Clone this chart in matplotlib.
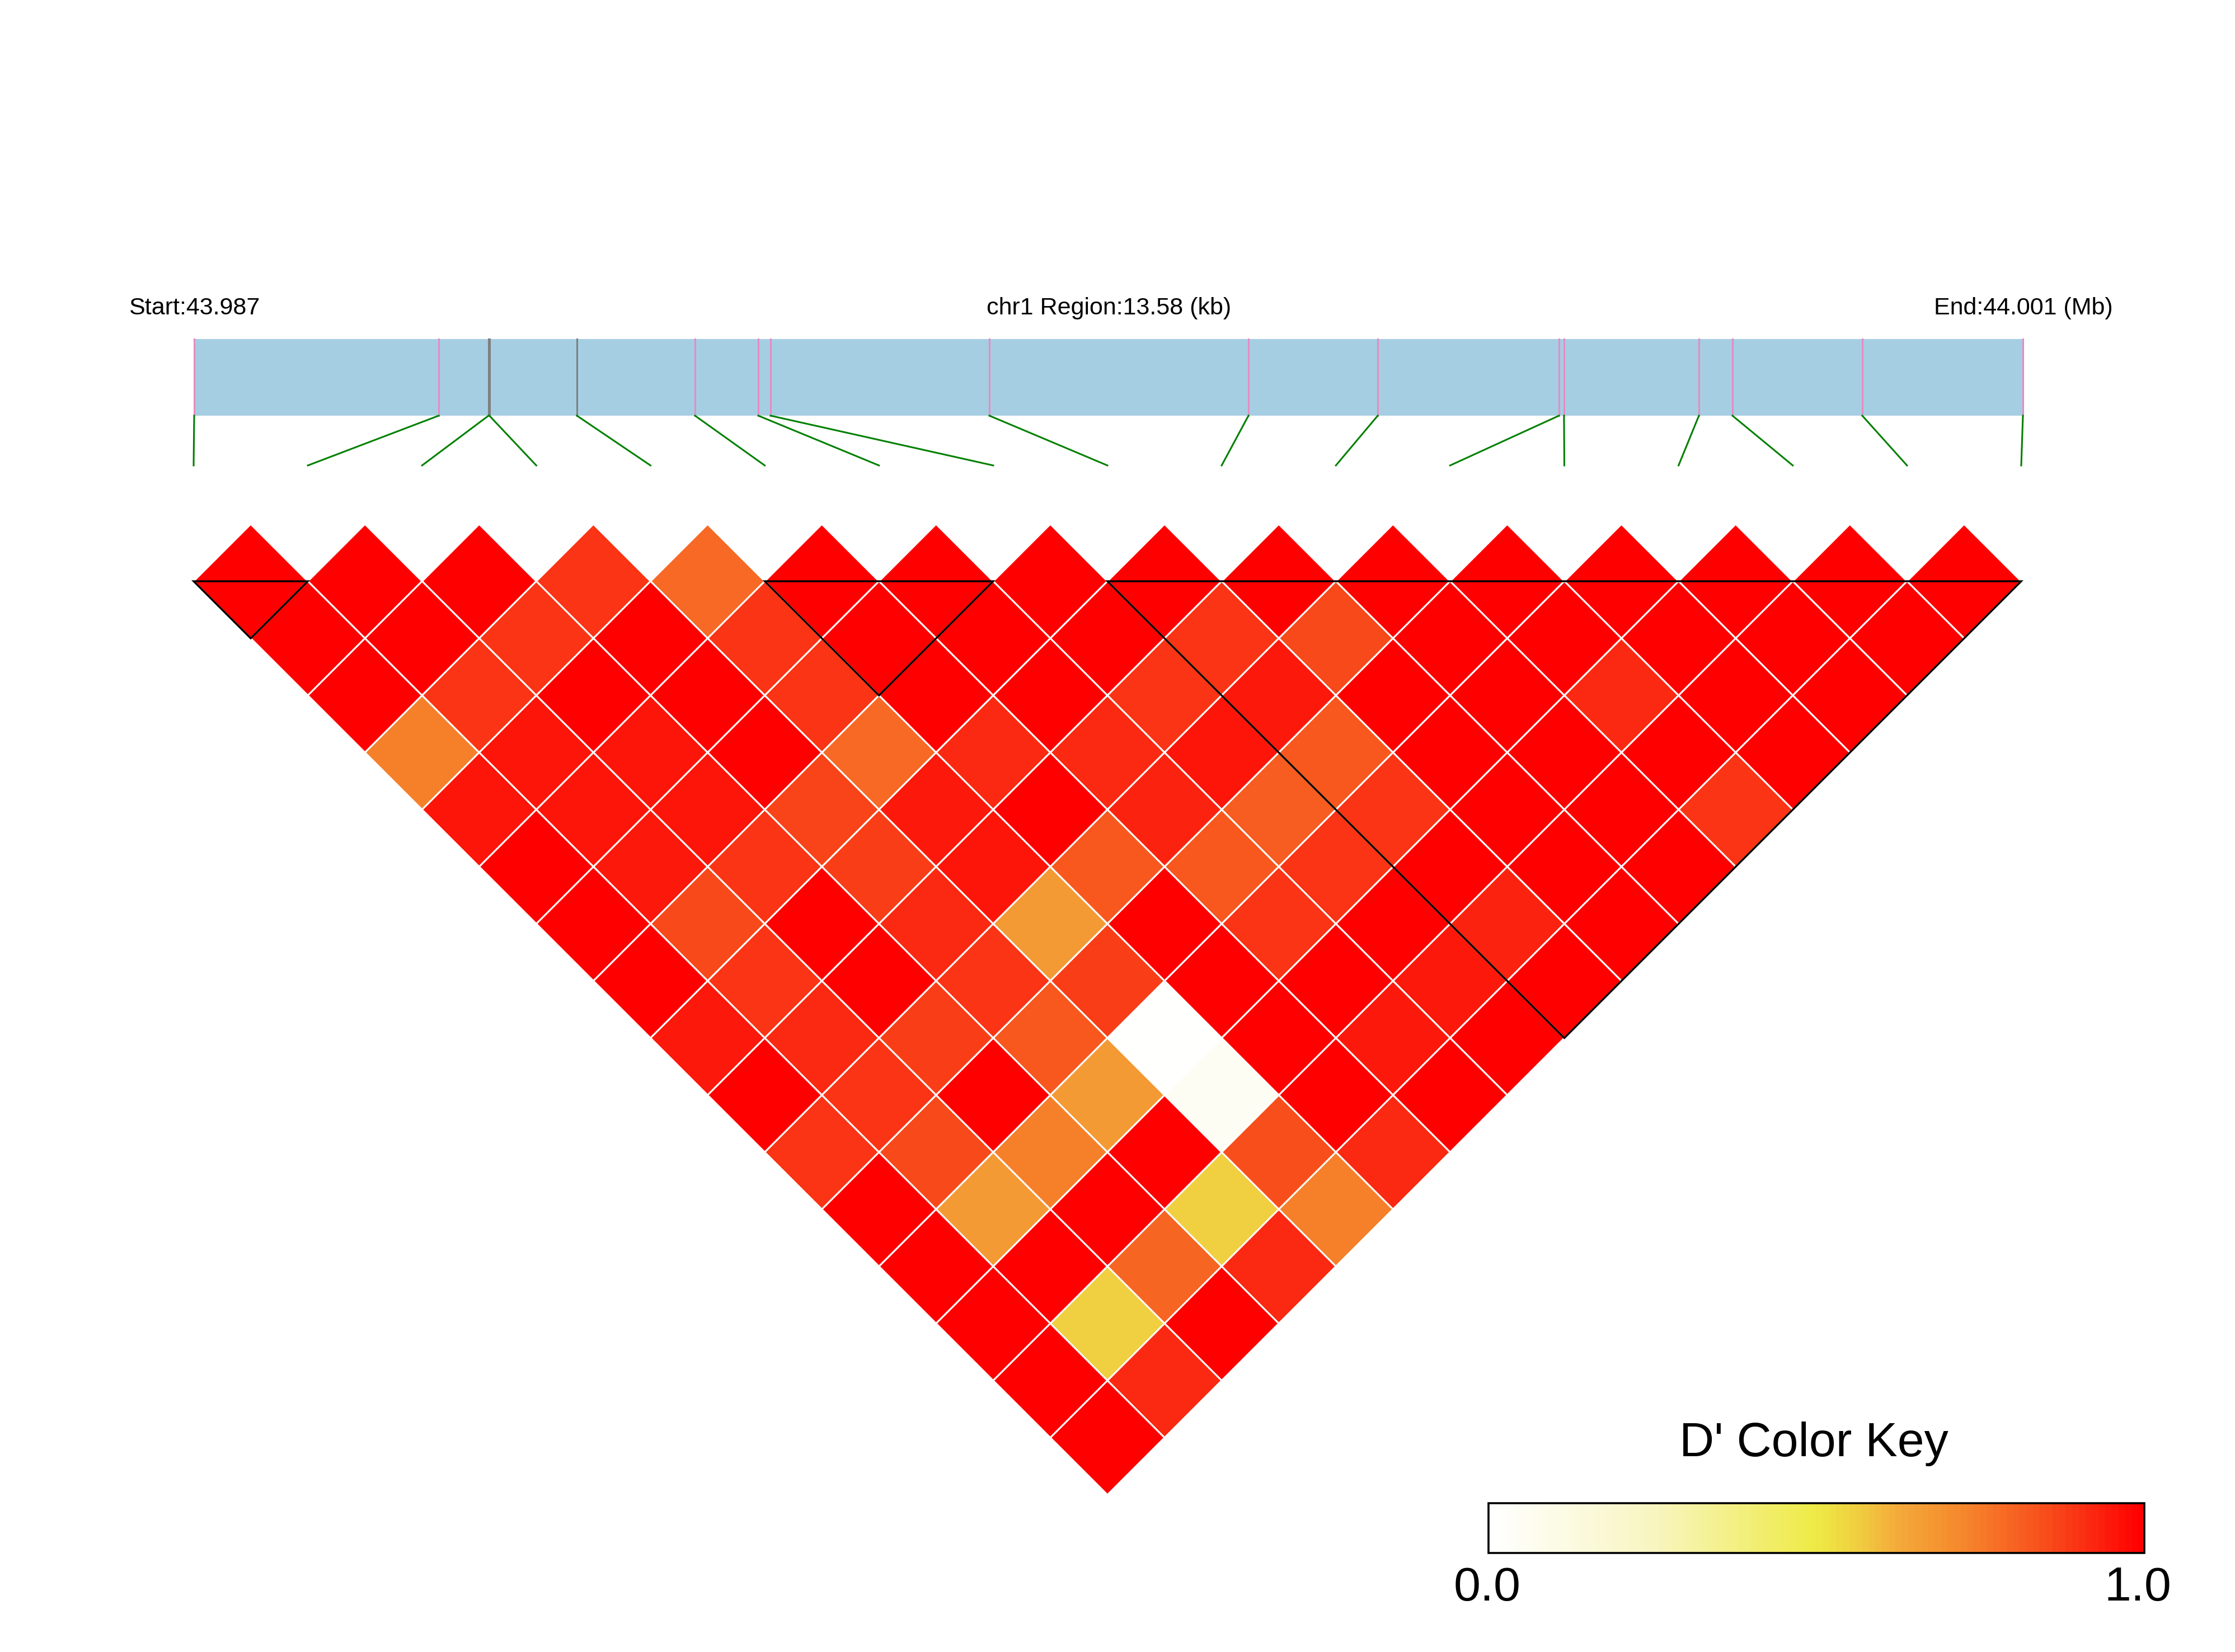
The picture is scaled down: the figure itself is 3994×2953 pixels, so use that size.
import numpy as np
import matplotlib
matplotlib.use("Agg")
import matplotlib.pyplot as plt
from matplotlib.colors import LinearSegmentedColormap
from matplotlib.collections import PolyCollection
from matplotlib.patches import Rectangle, Polygon

plt.rcParams['font.family'] = ['Liberation Sans', 'DejaVu Sans']

# SNP positions (bp) on chr1
snp_pos = [43987310, 43989126, 43989496, 43989502, 43990152, 43991029, 43991499,
           43991590, 43993215, 43995139, 43996099, 43997445, 43997482, 43998484,
           43998733, 43999697, 44000890]
snp_line_color = ['#E68BC4', '#E68BC4', '#7F7F7F', '#7F7F7F', '#7F7F7F', '#E68BC4',
                  '#E68BC4', '#E68BC4', '#E68BC4', '#E68BC4', '#E68BC4', '#E68BC4',
                  '#E68BC4', '#E68BC4', '#E68BC4', '#E68BC4', '#E68BC4']

# D' values, one list per SNP distance (j - i = 1 .. 16)
dprime = [
    [1, 1, 1, 0.9, 0.79, 1, 1, 1, 1, 1, 1, 1, 1, 1, 1, 1],
    [1, 1, 0.9, 1, 0.9, 1, 1, 1, 0.9, 0.86, 1, 1, 1, 1, 1],
    [1, 0.9, 1, 1, 0.9, 1, 1, 0.9, 0.95, 1, 1, 0.92, 1, 1],
    [0.74, 0.96, 0.96, 1, 0.79, 0.92, 0.92, 0.96, 0.83, 1, 1, 1, 1],
    [0.96, 0.96, 0.96, 0.87, 0.95, 1, 0.93, 0.82, 0.9, 1, 1, 0.9],
    [1, 0.95, 0.9, 0.88, 0.96, 0.83, 0.83, 0.9, 1, 1, 1],
    [1, 0.86, 1, 0.92, 0.67, 1, 0.9, 1, 0.93, 1],
    [1, 0.9, 1, 0.9, 0.88, 1, 1, 0.95, 1],
    [0.95, 0.92, 0.88, 0.83, 0.01, 1, 0.95, 1],
    [1, 0.9, 1, 0.67, 0.05, 1, 1],
    [0.9, 0.86, 0.74, 1, 0.85, 0.92],
    [1, 0.67, 1, 0.56, 0.74],
    [1, 1, 0.8, 0.92],
    [1, 0.56, 1],
    [1, 0.92],
    [1],
]

# haplotype blocks (first SNP, last SNP)
blocks = [(0, 1), (5, 7), (8, 16)]

cmap = LinearSegmentedColormap.from_list("ld", [
    (0.0, '#FFFFFF'), (0.25, '#F8F5C0'), (0.5, '#EEEA45'), (0.56, '#F0D040'),
    (0.63, '#F4A83A'), (0.72, '#F58A2C'), (0.79, '#F76A25'), (0.86, '#F84A1A'),
    (0.93, '#FB2510'), (1.0, '#FF0000')])

W, H = 3994, 2953
fig = plt.figure(figsize=(W / 100, H / 100), dpi=100)
ax = fig.add_axes([0, 0, 1, 1])
ax.set_xlim(0, W)
ax.set_ylim(H, 0)
ax.axis('off')

n = len(snp_pos)
left, right = 346, 3612
step = (right - left) / (n - 1)
half = step / 2
ytop = 1039
snp_x = [left + k * step for k in range(n)]

# gene track
gx0, gx1 = 347, 3615
gy0, gy1 = 606, 743
start, end = snp_pos[0], snp_pos[-1]
def gpos(p):
    return gx0 + (p - start) / (end - start) * (gx1 - gx0)

ax.add_patch(Rectangle((gx0, gy0), gx1 - gx0, gy1 - gy0, facecolor='#A6CEE3',
                       edgecolor='none'))
for k, p in enumerate(snp_pos):
    x = gpos(p)
    ax.plot([x, x], [gy0, gy1], color=snp_line_color[k], lw=2.2)
    ax.plot([x, snp_x[k]], [gy1, 832], color='green', lw=2.2)

ax.text(230, 562, "Start:%.3f" % (start / 1e6), fontsize=31, ha='left', va='baseline')
ax.text(1982, 562, "chr1 Region:%.2f (kb)" % ((end - start) / 1000), fontsize=31,
        ha='center', va='baseline')
ax.text(3776, 562, "End:%.3f (Mb)" % (end / 1e6), fontsize=31, ha='right', va='baseline')

# LD diamonds
verts, vals = [], []
for d, row in enumerate(dprime, start=1):
    for i, v in enumerate(row):
        j = i + d
        cx = left + (i + j) / 2 * step
        cy = ytop + (d - 1) * half
        verts.append([(cx, cy - half), (cx + half, cy), (cx, cy + half), (cx - half, cy)])
        vals.append(v)
pc = PolyCollection(verts, facecolors=cmap(np.array(vals)), edgecolors='white',
                    linewidths=2.2)
ax.add_collection(pc)

for a, b in blocks:
    xa, xb = snp_x[a], snp_x[b]
    tri = Polygon([(xa, ytop), (xb, ytop), ((xa + xb) / 2, ytop + (xb - xa) / 2)],
                  closed=True, fill=False, edgecolor='black', lw=2.4)
    ax.add_patch(tri)

# colour key
kx0, kx1, ky0, ky1 = 2660, 3832, 2687, 2776
xs = np.linspace(kx0, kx1, 101)
grad = np.linspace(0, 1, 100).reshape(1, -1)
ax.pcolormesh(xs, [ky0, ky1], grad, cmap=cmap, vmin=0, vmax=1, shading='flat')
ax.add_patch(Rectangle((kx0, ky0), kx1 - kx0, ky1 - ky0, fill=False,
                       edgecolor='black', lw=2.6))
ax.text(3241, 2603, "D' Color Key", fontsize=62, ha='center', va='baseline')
ax.text(2658, 2861, "0.0", fontsize=62, ha='center', va='baseline')
ax.text(3820, 2861, "1.0", fontsize=62, ha='center', va='baseline')

fig.savefig("out.png", dpi=100)
